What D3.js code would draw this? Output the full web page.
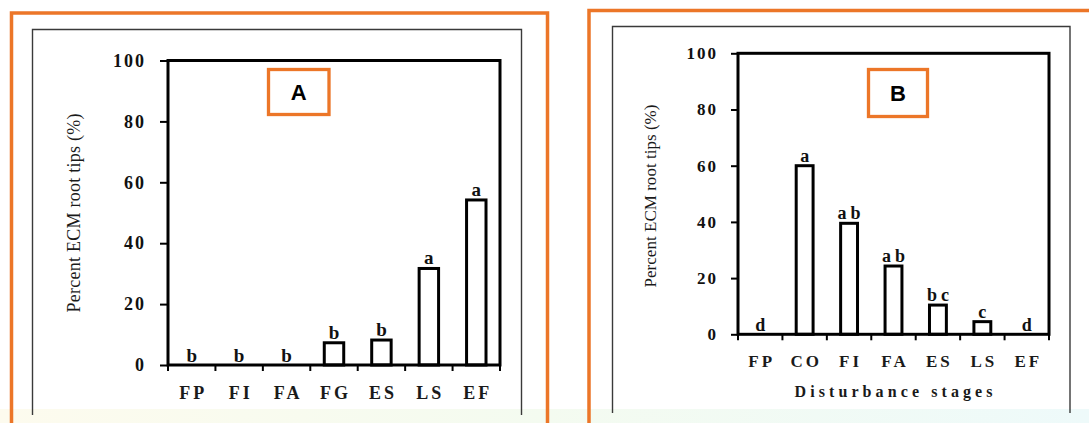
<!DOCTYPE html>
<html><head><meta charset="utf-8">
<script src="https://cdn.jsdelivr.net/npm/d3@7"></script>
<style>body{margin:0;background:#fff}svg{display:block}</style>
</head><body>
<svg id="c" width="1089" height="423"></svg>
<script>
const categoriesA = ["FP","FI","FA","FG","ES","LS","EF"];
const valuesA = [0,0,0,7.3,8.2,31.7,54.2];
const lettersA = ["b","b","b","b","b","a","a"];
const categoriesB = ["FP","CO","FI","FA","ES","LS","EF"];
const valuesB = [0,60,39.5,24.3,10.4,4.5,0];
const lettersB = ["d","a","ab","ab","bc","c","d"];
const yTicks = [0,20,40,60,80,100];
const panelTitles = ["A","B"];
const xAxisTitle = "Disturbance stages";
const yAxisTitle = "Percent ECM root tips (%)";

const ORANGE = "#EC7628";
const SERIF = "'Liberation Serif','Times New Roman',serif";
const SANS = "'Liberation Sans',Arial,sans-serif";
const svg = d3.select("#c");

// background tint strip at bottom
const defs = svg.append("defs");
const grad = defs.append("linearGradient").attr("id","bg").attr("x1","0").attr("x2","1");
grad.append("stop").attr("offset","0").attr("stop-color","#fdfbee");
grad.append("stop").attr("offset","0.5").attr("stop-color","#f4fbf0");
grad.append("stop").attr("offset","1").attr("stop-color","#eefafa");
svg.append("rect").attr("x",0).attr("y",409).attr("width",1089).attr("height",14).attr("fill","url(#bg)");

// gray inner boxes
svg.append("path").attr("d","M32.5,415V29.5H521.5V415").attr("fill","none").attr("stroke","#3a3a3a").attr("stroke-width",1.4);
svg.append("path").attr("d","M612.5,413V26.5H1070V413").attr("fill","none").attr("stroke","#3a3a3a").attr("stroke-width",1.4);

// orange outer frames
svg.append("rect").attr("x",11.5).attr("y",13).attr("width",536).attr("height",520)
  .attr("fill","none").attr("stroke",ORANGE).attr("stroke-width",3.5);
svg.append("rect").attr("x",589).attr("y",10.5).attr("width",600).attr("height",520)
  .attr("fill","none").attr("stroke",ORANGE).attr("stroke-width",3.5);

function drawPanel(cfg){
  const g = svg.append("g");
  const x = d3.scaleBand().domain(cfg.cats).range([cfg.x0,cfg.x1]);
  const y = d3.scaleLinear().domain([0,100]).range([cfg.y0,cfg.y1]);
  const bw = x.bandwidth();
  const data = cfg.cats.map((c,i)=>({c, v:cfg.vals[i], l:cfg.letters[i]}));

  // bars
  g.selectAll("rect.bar").data(data.filter(d=>d.v>0)).join("rect")
    .attr("class","bar")
    .attr("x",d=>x(d.c)+bw*(1-cfg.barRatio)/2)
    .attr("width",bw*cfg.barRatio)
    .attr("y",d=>y(d.v))
    .attr("height",d=>y(0)-y(d.v))
    .attr("fill","#fff").attr("stroke","#000").attr("stroke-width",3);

  // frame
  g.append("rect").attr("x",cfg.x0).attr("y",y(100)).attr("width",cfg.x1-cfg.x0).attr("height",y(0)-y(100))
    .attr("fill","none").attr("stroke","#000").attr("stroke-width",3);

  // y axis
  const ya = g.append("g").attr("transform",`translate(${cfg.x0},0)`)
    .call(d3.axisLeft(y).tickValues(yTicks).tickSize(cfg.tick).tickPadding(cfg.pad));
  ya.select(".domain").remove();
  ya.selectAll(".tick line").attr("stroke","#000").attr("stroke-width",2);
  ya.selectAll(".tick text").attr("font-family",SERIF).attr("font-weight","bold")
    .attr("font-size",cfg.fs).attr("letter-spacing",2).attr("fill","#111");

  // x ticks at band boundaries
  const bounds = cfg.cats.map(c=>x(c)).concat([x.range()[1]]);
  g.selectAll("line.xt").data(bounds).join("line").attr("class","xt")
    .attr("x1",d=>d).attr("x2",d=>d).attr("y1",y(0)).attr("y2",y(0)+6)
    .attr("stroke","#000").attr("stroke-width",2);

  // x labels
  g.selectAll("text.xl").data(data).join("text").attr("class","xl")
    .attr("x",d=>x(d.c)+bw/2+1.5).attr("y",cfg.xlabY)
    .attr("text-anchor","middle").attr("font-family",SERIF).attr("font-weight","bold")
    .attr("font-size",cfg.fs).attr("letter-spacing",3).attr("fill","#1a1a1a").text(d=>d.c);

  // significance letters
  g.selectAll("text.sig").data(data).join("text").attr("class","sig")
    .attr("x",d=>x(d.c)+bw/2+cfg.letSp/2).attr("y",d=>y(d.v)-(d.v>0?4:3))
    .attr("text-anchor","middle").attr("font-family",SERIF).attr("font-weight","bold")
    .attr("font-size",cfg.lfs).attr("letter-spacing",cfg.letSp).attr("fill","#111").text(d=>d.l);

  // title box
  g.append("rect").attr("x",cfg.box[0]).attr("y",cfg.box[1]).attr("width",cfg.box[2]).attr("height",cfg.box[3])
    .attr("fill","#fff").attr("stroke",ORANGE).attr("stroke-width",3.3);
  g.append("text").attr("x",cfg.box[0]+cfg.box[2]/2).attr("y",cfg.box[1]+cfg.box[3]/2+8)
    .attr("text-anchor","middle").attr("font-family",SANS).attr("font-weight","bold")
    .attr("font-size",22).attr("fill","#000").text(cfg.title);

  // y title
  g.append("text").attr("transform",`translate(${cfg.ylx},${cfg.yly}) rotate(-90)`)
    .attr("text-anchor","middle").attr("font-family",SERIF).attr("font-size",cfg.ylfs)
    .attr("textLength",cfg.ylLen).attr("lengthAdjust","spacing")
    .attr("fill","#1a1a1a").text(yAxisTitle);

  if (cfg.xTitle){
    g.append("text").attr("x",(cfg.x0+cfg.x1)/2).attr("y",cfg.xTitleY)
      .attr("text-anchor","middle").attr("font-family",SERIF).attr("font-weight","bold")
      .attr("font-size",16).attr("textLength",198).attr("lengthAdjust","spacing")
      .attr("fill","#1a1a1a").text(cfg.xTitle);
  }
}

drawPanel({cats:categoriesA, vals:valuesA, letters:lettersA, title:panelTitles[0],
  x0:168, x1:500, y0:365, y1:60.5, barRatio:0.41, tick:8, pad:14, fs:18, lfs:19, letSp:0,
  xlabY:399, box:[268.5,69.5,60.5,45], ylx:80, yly:213, ylfs:18, ylLen:199});

drawPanel({cats:categoriesB, vals:valuesB, letters:lettersB, title:panelTitles[1],
  x0:738, x1:1049, y0:334.3, y1:53.3, barRatio:0.38, tick:7, pad:13, fs:17, lfs:18, letSp:4,
  xlabY:367, box:[868.5,69.5,59,47], ylx:656, yly:196, ylfs:17, ylLen:183,
  xTitle:xAxisTitle, xTitleY:397});
</script>
</body></html>
